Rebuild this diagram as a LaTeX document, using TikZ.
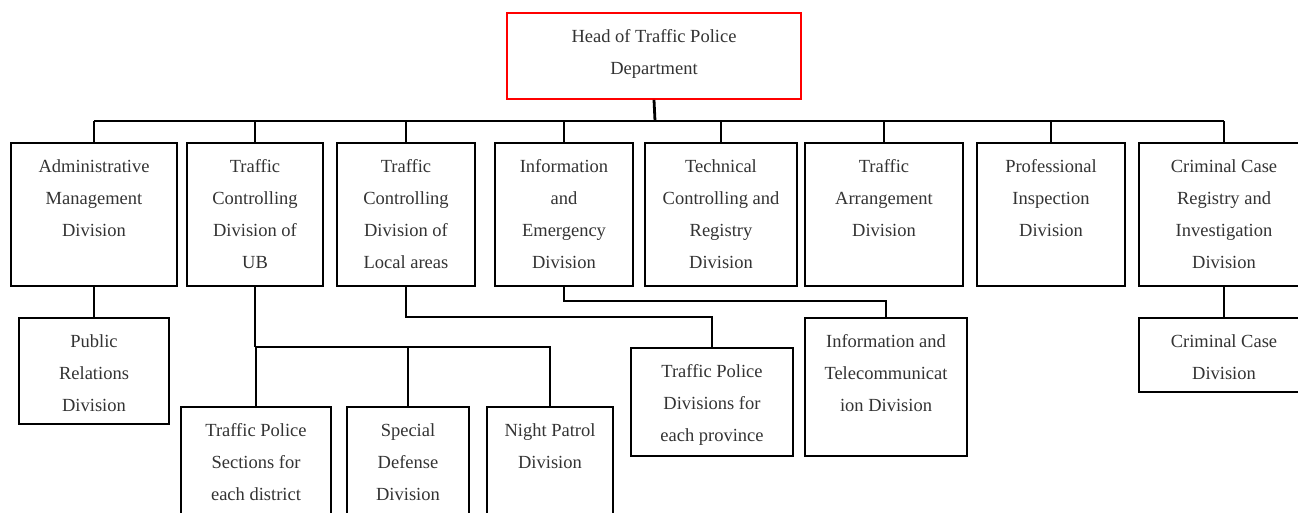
\documentclass[tikz,border=0pt]{standalone}
\usepackage{fontspec}
\setmainfont{Liberation Serif}
\newcommand{\orgbox}[7][black]{%
  \node[obox, draw=#1, minimum width={(#5-#3)*1pt}, minimum height={(#6-#4)*1pt}] (#2) at ({(#3+#5)/2},{(#4+#6)/2}) {};
  \node[otext, anchor=north] (#2-t) at ([yshift=-15pt]#2.north) {\rule{0pt}{15pt}#7};
}
\begin{document}
\begin{tikzpicture}[x=1pt,y=-1pt,
  obox/.style={rectangle, line width=1.8pt, inner sep=0pt, fill=white},
  otext/.style={align=center, inner sep=0pt, text=black!80, font=\fontsize{18.5}{32}\selectfont},
  conn/.style={line width=1.8pt, black},
  thickconn/.style={line width=2.8pt, black}]
\useasboundingbox (0,0) rectangle (1298,513);
\clip (0,0) rectangle (1298,513);
\fill[white] (0,0) rectangle (1298,513);
% head
\orgbox[red]{head}{507}{13}{801}{99}{Head of Traffic Police\\Department}
% row 1
\orgbox{adm}{11}{143}{177}{286}{Administrative\\Management\\Division}
\orgbox{ub}{187}{143}{323}{286}{Traffic\\Controlling\\Division of\\UB}
\orgbox{loc}{337}{143}{475}{286}{Traffic\\Controlling\\Division of\\Local areas}
\orgbox{inf}{495}{143}{633}{286}{Information\\and\\Emergency\\Division}
\orgbox{tec}{645}{143}{797}{286}{Technical\\Controlling and\\Registry\\Division}
\orgbox{arr}{805}{143}{963}{286}{Traffic\\Arrangement\\Division}
\orgbox{pro}{977}{143}{1125}{286}{Professional\\Inspection\\Division}
\orgbox{crr}{1139}{143}{1309}{286}{Criminal Case\\Registry and\\Investigation\\Division}
% row 2
\orgbox{pr}{19}{318}{169}{424}{Public\\Relations\\Division}
\orgbox{prov}{631}{348}{793}{456}{Traffic Police\\Divisions for\\each province}
\orgbox{tel}{805}{318}{967}{456}{Information and\\Telecommunicat\\ion Division}
\orgbox{ccd}{1139}{318}{1309}{392}{Criminal Case\\Division}
% row 3
\orgbox{sec}{181}{407}{331}{540}{Traffic Police\\Sections for\\each district}
\orgbox{spd}{347}{407}{469}{540}{Special\\Defense\\Division}
\orgbox{nig}{487}{407}{613}{540}{Night Patrol\\Division}
% connectors
\coordinate (bus) at (655,121);
\draw[thickconn] (head.south) -- (bus);
\draw[thickconn] (adm.north |- bus) -- (crr.north |- bus);
\foreach \n in {adm,ub,loc,inf,tec,arr,pro,crr}{
  \draw[conn] (\n.north) -- (\n.north |- bus);
}
\draw[conn] (adm.south) -- (pr.north);
\draw[conn] (crr.south) -- (ccd.north);
\coordinate (ubbus) at (255,347);
\draw[line width=2.4pt] (ub.south) -- (ubbus);
\draw[conn] (ubbus) -| (nig.north);
\draw[conn] (sec.north) -- (sec.north |- ubbus);
\draw[conn] (spd.north) -- (spd.north |- ubbus);
\coordinate (locbus) at (406,317);
\draw[conn] (loc.south) -- (locbus) -| (prov.north);
\coordinate (infbus) at (564,301);
\draw[conn] (inf.south) -- (infbus) -| (tel.north);
\end{tikzpicture}
\end{document}
